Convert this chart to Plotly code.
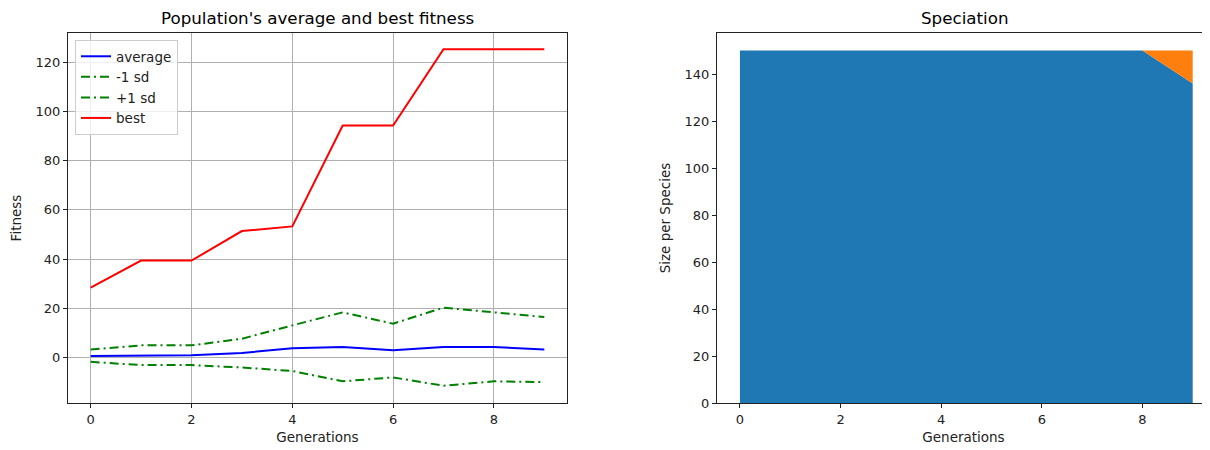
import plotly.graph_objects as go

generations = [0, 1, 2, 3, 4, 5, 6, 7, 8, 9]
avg_fitness = [0.7, 1.0, 1.0, 1.9, 3.8, 4.3, 3.0, 4.3, 4.3, 3.3]
minus_sd = [-1.7, -3.0, -3.0, -4.0, -5.4, -9.6, -8.0, -11.4, -9.6, -9.9]
plus_sd = [3.3, 5.0, 5.0, 7.7, 13.1, 18.4, 13.8, 20.3, 18.4, 16.5]
best_fitness = [28.4, 39.4, 39.4, 51.4, 53.3, 94.2, 94.2, 125.2, 125.2, 125.2]

species_1 = [150, 150, 150, 150, 150, 150, 150, 150, 150, 136]
species_2 = [0, 0, 0, 0, 0, 0, 0, 0, 0, 14]

xticks = [0, 2, 4, 6, 8]
left_yticks = [0, 20, 40, 60, 80, 100, 120]
right_yticks = [0, 20, 40, 60, 80, 100, 120, 140]

# page has an 8px body margin; figure placed accordingly
OFF = 8
W, H = 1210 - OFF, 450 - OFF
FONT = "DejaVu Sans"
dashdot = "9px,4px,2px,4px"


def px(p):
    return (p - OFF) / W


def py(p):
    return 1 - (p - OFF) / H


fig = go.Figure()
fig.add_trace(go.Scatter(x=generations, y=avg_fitness, mode="lines", name="average",
                         line=dict(color="blue", width=2), xaxis="x", yaxis="y"))
fig.add_trace(go.Scatter(x=generations, y=minus_sd, mode="lines", name="-1 sd",
                         line=dict(color="green", width=2, dash=dashdot), xaxis="x", yaxis="y"))
fig.add_trace(go.Scatter(x=generations, y=plus_sd, mode="lines", name="+1 sd",
                         line=dict(color="green", width=2, dash=dashdot), xaxis="x", yaxis="y"))
fig.add_trace(go.Scatter(x=generations, y=best_fitness, mode="lines", name="best",
                         line=dict(color="red", width=2), xaxis="x", yaxis="y"))

fig.add_trace(go.Scatter(x=generations, y=species_1, mode="lines", stackgroup="sp",
                         line=dict(width=0, color="#1f77b4"), fillcolor="#1f77b4",
                         showlegend=False, xaxis="x2", yaxis="y2"))
fig.add_trace(go.Scatter(x=generations, y=species_2, mode="lines", stackgroup="sp",
                         line=dict(width=0, color="#ff7f0e"), fillcolor="#ff7f0e",
                         showlegend=False, xaxis="x2", yaxis="y2"))

ydom = [py(403), py(33)]
common_axis = dict(showline=True, linecolor="#222222", linewidth=1, mirror=True,
                   ticks="outside", ticklen=4, tickcolor="#222222", zeroline=False,
                   automargin=False,
                   tickfont=dict(family=FONT, size=13, color="#222222"))
label_font = dict(family=FONT, size=13.5, color="#222222")

fig.update_layout(
    width=W, height=H,
    margin=dict(l=0, r=0, t=0, b=0),
    paper_bgcolor="white", plot_bgcolor="white",
    font=dict(family=FONT, size=13, color="#222222"),
    xaxis=dict(domain=[px(68), px(567)], range=[-0.45, 9.45], tickvals=xticks,
               showgrid=True, gridcolor="#b0b0b0", gridwidth=1,
               title=dict(text="Generations", font=label_font, standoff=6),
               anchor="y", **common_axis),
    yaxis=dict(domain=ydom, range=[-18.4, 131.8], tickvals=left_yticks,
               showgrid=True, gridcolor="#b0b0b0", gridwidth=1,
               title=dict(text="Fitness", font=label_font, standoff=10),
               anchor="x", **common_axis),
    xaxis2=dict(domain=[px(717), 1.0], range=[-0.457, 9.344], tickvals=xticks,
                showgrid=False,
                title=dict(text="Generations", font=label_font, standoff=6),
                anchor="y2", **common_axis),
    yaxis2=dict(domain=ydom, range=[0, 157.5], tickvals=right_yticks,
                showgrid=False,
                title=dict(text="Size per Species", font=label_font, standoff=10),
                anchor="x2", **common_axis),
    legend=dict(x=px(75), y=py(40), xanchor="left", yanchor="top",
                bgcolor="rgba(255,255,255,0.8)", bordercolor="#cccccc", borderwidth=1,
                font=dict(family=FONT, size=13.5, color="#222222"), itemwidth=30,
                tracegroupgap=0, traceorder="normal"),
    annotations=[
        dict(text="Population's average and best fitness", x=px((68 + 567) / 2), y=py(18),
             xref="paper", yref="paper", showarrow=False, xanchor="center", yanchor="middle",
             font=dict(family=FONT, size=16.7, color="black")),
        dict(text="Speciation", x=px(964), y=py(18),
             xref="paper", yref="paper", showarrow=False, xanchor="center", yanchor="middle",
             font=dict(family=FONT, size=16.7, color="black")),
    ],
)

fig.write_html("out.html")
